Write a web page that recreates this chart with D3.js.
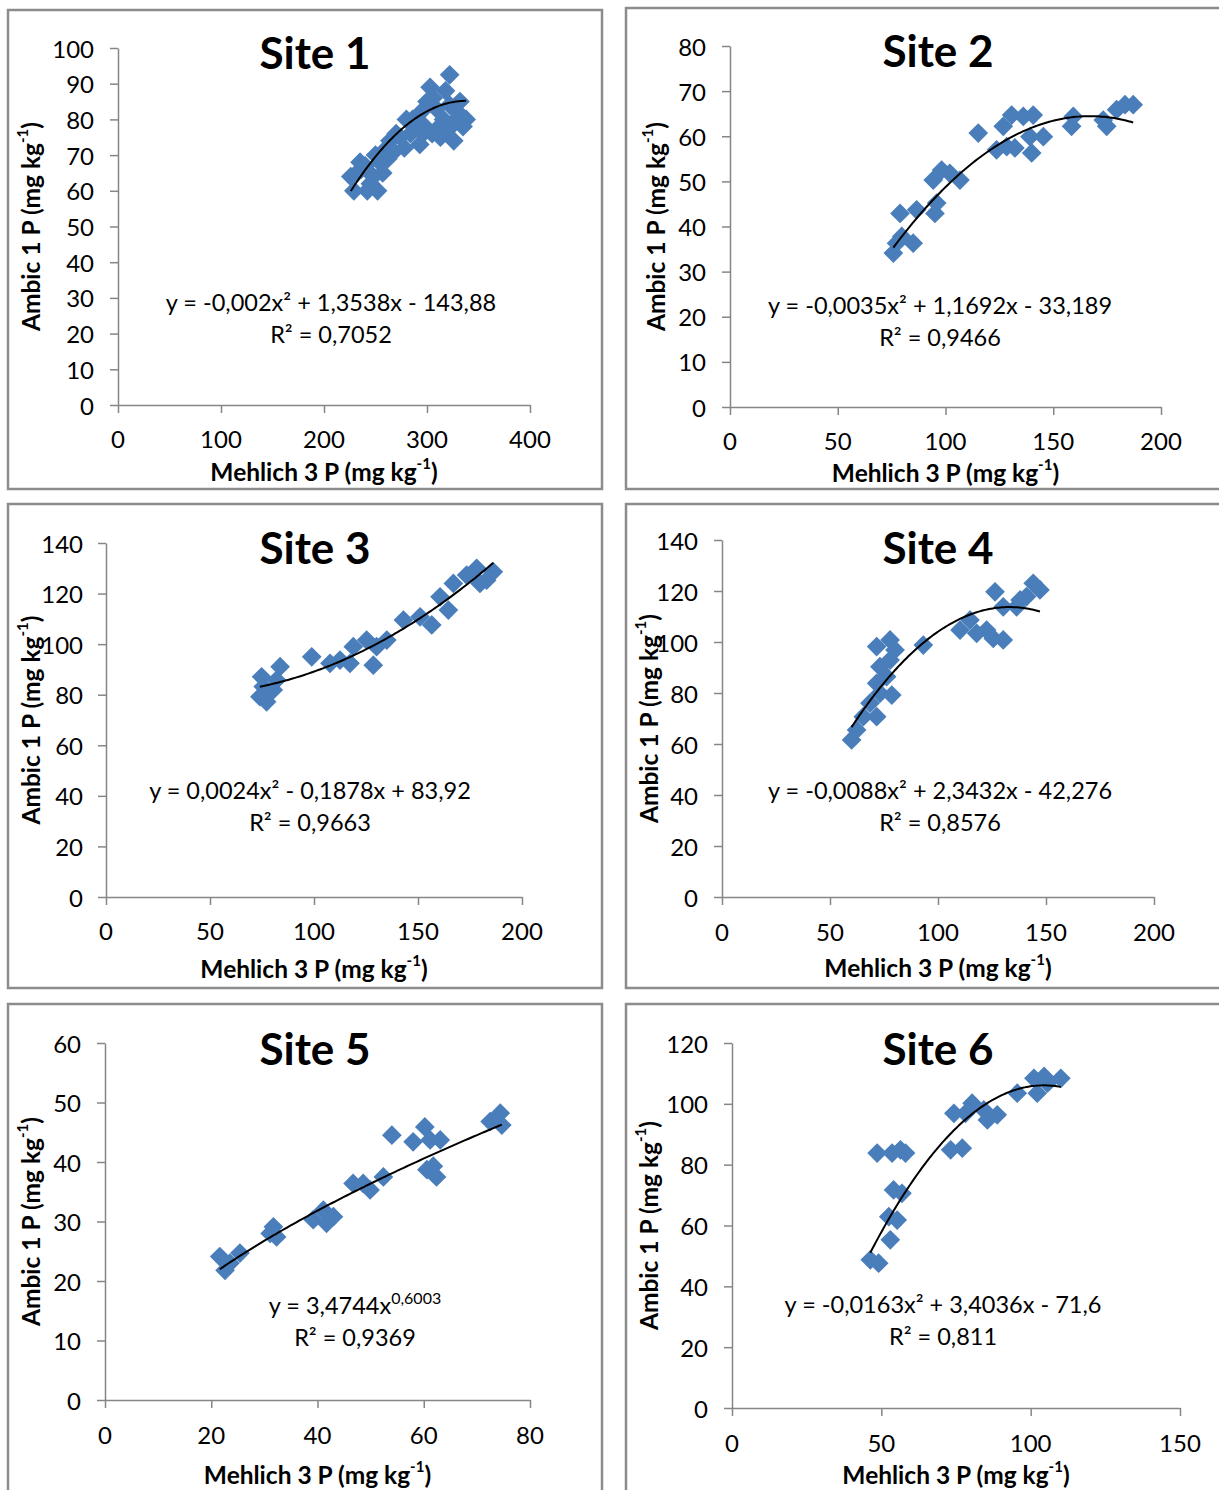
<!DOCTYPE html>
<html>
<head>
<meta charset="utf-8">
<script src="https://cdn.jsdelivr.net/npm/d3@7"></script>
<style>
  html, body { margin: 0; padding: 0; background: #fff; }
  svg text { font-family: Lato, "Open Sans", sans-serif; fill: #000; }
</style>
</head>
<body>
<svg id="chart" width="1219" height="1490"></svg>
<script>
// Mehlich 3 P (x) against Ambic 1 P (y), one scatter per site.
const site1X = [226,229,232,236,240,242,245,248,252,254,257,258,261,264,268,274,278,280,284,290,293,294,298,300,303,306,309,312,313,318,322,322,326,328,332,335,338,235,250,262,270,286,296,305,316,320,330];
const site1Y = [64,60,65,66,67,60,62,64,60,68,65,70,72,74,71,75,72,80,76,79,73,82,78,85,89,86,83,78,75,88,92.5,84,74,80,85,78,80,68,70,69,76,80,76,76,80,77,82];

const site2X = [75.8,77.3,79.7,78.9,85,86.6,95.1,95.9,94.3,98.2,102,106.7,115.2,123.7,128.4,132.2,126.8,130.7,136.1,140.7,139.2,140,145.4,159.3,158.5,173.2,174.8,179.4,183.3,187.1];
const site2Y = [34.1,36.3,37.8,42.9,36.3,43.7,42.9,45.2,50.3,52.5,51.8,50.3,60.7,57,57.7,57.4,62.2,64.7,64.4,64.7,59.9,56.3,59.9,64.4,62.2,63.6,62.2,65.9,67,67];

const site3X = [74.8,75.6,74,77.2,80.4,83.7,82,98.9,107.7,112.5,117.3,118.9,125.3,128.5,130.1,135,143,151,156.6,160.6,164.6,167,173.4,178.2,179.8,186.2,183];
const site3Y = [87.1,83.2,79.2,77.2,81.9,91.1,85.8,95,92.4,93.7,92.4,99,101.6,91.7,99,101.6,109.5,110.8,107.6,118.7,113.5,124,127.3,130,124,128.6,125.3];

const site4X = [60,62.3,65.4,71.6,68.5,73.1,78.6,71.6,76.2,73.1,77.8,71.6,77.8,80.1,93.2,110.2,114.8,117.9,122.5,125.6,130.2,126.4,130.2,136.4,141,144.1,147.2,138];
const site4Y = [61.6,65.5,70.7,70.7,76,79.9,79.2,83.8,86.4,90.3,92.9,98.2,100.8,96.9,98.8,104.7,108.6,103.4,104.7,101.4,100.8,119.7,113.8,113.8,117.8,123,120.4,116.5];

const site5X = [21.6,23.5,22.6,25.4,31.7,32.3,31.1,39.2,41.1,43,41.7,46.7,48.6,49.9,52.4,54,58,60.2,61.2,63.1,60.6,62.4,61.8,72.5,74.4,74.7];
const site5Y = [24.1,23,21.8,24.7,29.1,27.4,28,30.3,31.9,30.8,29.7,36.4,36.4,35.3,37.5,44.5,43.4,45.9,43.7,43.7,38.7,37.5,39.3,46.8,48.2,46.2];

const site6X = [46.3,49.1,53,55.3,52.5,54.1,56.9,48.6,53.6,56.4,58.1,73.2,77.1,74.3,80.4,78.2,84.3,85.5,88.8,95.5,101.1,102.2,105.6,110.1,104.5];
const site6Y = [48.7,47.6,55.3,61.8,62.9,71.7,70.6,83.8,83.8,84.9,83.8,84.9,85.4,96.9,100.2,96.9,98,94.7,96.4,103.5,108.4,103.5,106.8,108.4,109];

// Trendline coefficients as printed on each panel
const site1Coef = [-0.002, 1.3538, -143.88];
const site2Coef = [-0.0035, 1.1692, -33.189];
const site3Coef = [0.0024, -0.1878, 83.92];
const site4Coef = [-0.0088, 2.3432, -42.276];
const site5Power = [3.4744, 0.6003];
const site6Coef = [-0.0163, 3.4036, -71.6];

const r2Values = [0.7052, 0.9466, 0.9663, 0.8576, 0.9369, 0.811];
const siteNames = ["Site 1", "Site 2", "Site 3", "Site 4", "Site 5", "Site 6"];

// Axis ticks
const site1XTicks = [0, 100, 200, 300, 400];
const site1YTicks = [0, 10, 20, 30, 40, 50, 60, 70, 80, 90, 100];
const site2XTicks = [0, 50, 100, 150, 200];
const site2YTicks = [0, 10, 20, 30, 40, 50, 60, 70, 80];
const site3XTicks = [0, 50, 100, 150, 200];
const site3YTicks = [0, 20, 40, 60, 80, 100, 120, 140];
const site4XTicks = [0, 50, 100, 150, 200];
const site4YTicks = [0, 20, 40, 60, 80, 100, 120, 140];
const site5XTicks = [0, 20, 40, 60, 80];
const site5YTicks = [0, 10, 20, 30, 40, 50, 60];
const site6XTicks = [0, 50, 100, 150];
const site6YTicks = [0, 20, 40, 60, 80, 100, 120];

const xAxisTitle = "Mehlich 3 P (mg kg";
const yAxisTitle = "Ambic 1 P (mg kg";

const comma = v => String(Math.abs(v)).replace(".", ",");
const sign = v => (v < 0 ? "- " : "+ ");
const quadLabel = c => "y = " + (c[0] < 0 ? "-" : "") + comma(c[0]) + "x\u00B2 " +
  sign(c[1]) + comma(c[1]) + "x " + sign(c[2]) + comma(c[2]);
const quad = c => x => c[0] * x * x + c[1] * x + c[2];
const power = p => x => p[0] * Math.pow(x, p[1]);

const panels = [
  { xs: site1X, ys: site1Y, xt: site1XTicks, yt: site1YTicks, f: quad(site1Coef), eq: quadLabel(site1Coef),
    frame: [8, 10, 594, 479], plot: [118, 530, 48, 405], title: [315, 52], eqPos: [331, 302], yTitleX: 30, xTitleY: 471, xLabY: 438, yLabX: 94 },
  { xs: site2X, ys: site2Y, xt: site2XTicks, yt: site2YTicks, f: quad(site2Coef), eq: quadLabel(site2Coef),
    frame: [626, 8, 610, 481], plot: [730, 1161, 46, 407], title: [938, 50], eqPos: [940, 305], yTitleX: 655, xTitleY: 472, xLabY: 440, yLabX: 706 },
  { xs: site3X, ys: site3Y, xt: site3XTicks, yt: site3YTicks, f: quad(site3Coef), eq: quadLabel(site3Coef),
    frame: [8, 504, 594, 484], plot: [106, 522, 543, 897], title: [315, 547], eqPos: [310, 790], yTitleX: 30, xTitleY: 968, xLabY: 930, yLabX: 83 },
  { xs: site4X, ys: site4Y, xt: site4XTicks, yt: site4YTicks, f: quad(site4Coef), eq: quadLabel(site4Coef),
    frame: [626, 504, 610, 484], plot: [722, 1154, 540, 897], title: [938, 547], eqPos: [940, 790], yTitleX: 648, xTitleY: 967, xLabY: 931, yLabX: 698 },
  { xs: site5X, ys: site5Y, xt: site5XTicks, yt: site5YTicks, f: power(site5Power), eq: null,
    frame: [8, 1004, 594, 510], plot: [105, 530, 1043, 1400], title: [315, 1048], eqPos: [355, 1305], yTitleX: 30, xTitleY: 1474, xLabY: 1434, yLabX: 81 },
  { xs: site6X, ys: site6Y, xt: site6XTicks, yt: site6YTicks, f: quad(site6Coef), eq: quadLabel(site6Coef),
    frame: [626, 1004, 610, 510], plot: [732, 1180, 1043, 1408], title: [938, 1048], eqPos: [943, 1304], yTitleX: 648, xTitleY: 1474, xLabY: 1442, yLabX: 708 }
];

const svg = d3.select("#chart");
const axisColor = "#868686";
const markColor = "#4a7ebb";
const diamond = d3.symbol().type(d3.symbolSquare).size(195);

panels.forEach((p, i) => {
  const g = svg.append("g");
  const [fx, fy, fw, fh] = p.frame;
  g.append("rect").attr("x", fx).attr("y", fy).attr("width", fw).attr("height", fh)
    .attr("fill", "#fff").attr("stroke", "#8c8c8c").attr("stroke-width", 2.5);

  const [l, r, t, b] = p.plot;
  const x = d3.scaleLinear().domain(d3.extent(p.xt)).range([l, r]);
  const y = d3.scaleLinear().domain(d3.extent(p.yt)).range([b, t]);

  // axes
  const xAxis = g.append("g").attr("transform", `translate(0,${b})`)
    .call(d3.axisBottom(x).tickValues(p.xt).tickSize(8).tickSizeOuter(0).tickFormat(""));
  const yAxis = g.append("g").attr("transform", `translate(${l},0)`)
    .call(d3.axisLeft(y).tickValues(p.yt).tickSize(8).tickSizeOuter(0).tickFormat(""));
  [xAxis, yAxis].forEach(a => {
    a.selectAll("path, line").attr("stroke", axisColor).attr("stroke-width", 1.5);
  });

  // tick labels
  g.selectAll(".xl").data(p.xt).join("text")
    .attr("x", d => x(d)).attr("y", p.xLabY).attr("text-anchor", "middle")
    .attr("dominant-baseline", "central").attr("font-size", 24).text(d => d);
  g.selectAll(".yl").data(p.yt).join("text")
    .attr("x", p.yLabX).attr("y", d => y(d)).attr("text-anchor", "end")
    .attr("dominant-baseline", "central").attr("font-size", 24).text(d => d);

  // points
  const pts = p.xs.map((v, k) => [v, p.ys[k]]);
  g.selectAll("path.pt").data(pts).join("path").attr("class", "pt")
    .attr("d", diamond)
    .attr("transform", d => `translate(${x(d[0])},${y(d[1])}) rotate(45)`)
    .attr("fill", markColor);

  // trendline across the data range
  const [x0, x1] = d3.extent(p.xs);
  const line = d3.line().x(d => x(d)).y(d => y(p.f(d)));
  g.append("path").datum(d3.range(0, 101).map(k => x0 + (x1 - x0) * k / 100))
    .attr("d", line).attr("fill", "none").attr("stroke", "#000").attr("stroke-width", 2);

  // title
  g.append("text").attr("x", p.title[0]).attr("y", p.title[1])
    .attr("text-anchor", "middle").attr("dominant-baseline", "central")
    .attr("font-size", 44).attr("font-weight", "bold").text(siteNames[i]);

  // equation and R²
  const eqText = g.append("text").attr("x", p.eqPos[0]).attr("y", p.eqPos[1])
    .attr("text-anchor", "middle").attr("dominant-baseline", "central").attr("font-size", 23.5);
  if (p.eq) {
    eqText.text(p.eq);
  } else {
    eqText.append("tspan").text("y = " + comma(site5Power[0]) + "x");
    eqText.append("tspan").attr("font-size", 16).attr("dy", -8).text(comma(site5Power[1]));
  }
  g.append("text").attr("x", p.eqPos[0]).attr("y", p.eqPos[1] + 32)
    .attr("text-anchor", "middle").attr("dominant-baseline", "central").attr("font-size", 23.5)
    .text("R\u00B2 = " + comma(r2Values[i]));

  // axis titles
  const xt = g.append("text").attr("x", (l + r) / 2).attr("y", p.xTitleY)
    .attr("text-anchor", "middle").attr("dominant-baseline", "central")
    .attr("font-size", 24.5).attr("font-weight", "bold");
  xt.append("tspan").text(xAxisTitle);
  xt.append("tspan").attr("font-size", 15).attr("dy", -8).text("-1");
  xt.append("tspan").attr("dy", 8).text(")");

  const yc = (t + b) / 2;
  const yt = g.append("text").attr("transform", `translate(${p.yTitleX},${yc}) rotate(-90)`)
    .attr("text-anchor", "middle").attr("dominant-baseline", "central")
    .attr("font-size", 24.5).attr("font-weight", "bold");
  yt.append("tspan").text(yAxisTitle);
  yt.append("tspan").attr("font-size", 15).attr("dy", -8).text("-1");
  yt.append("tspan").attr("dy", 8).text(")");
});
</script>
</body>
</html>
